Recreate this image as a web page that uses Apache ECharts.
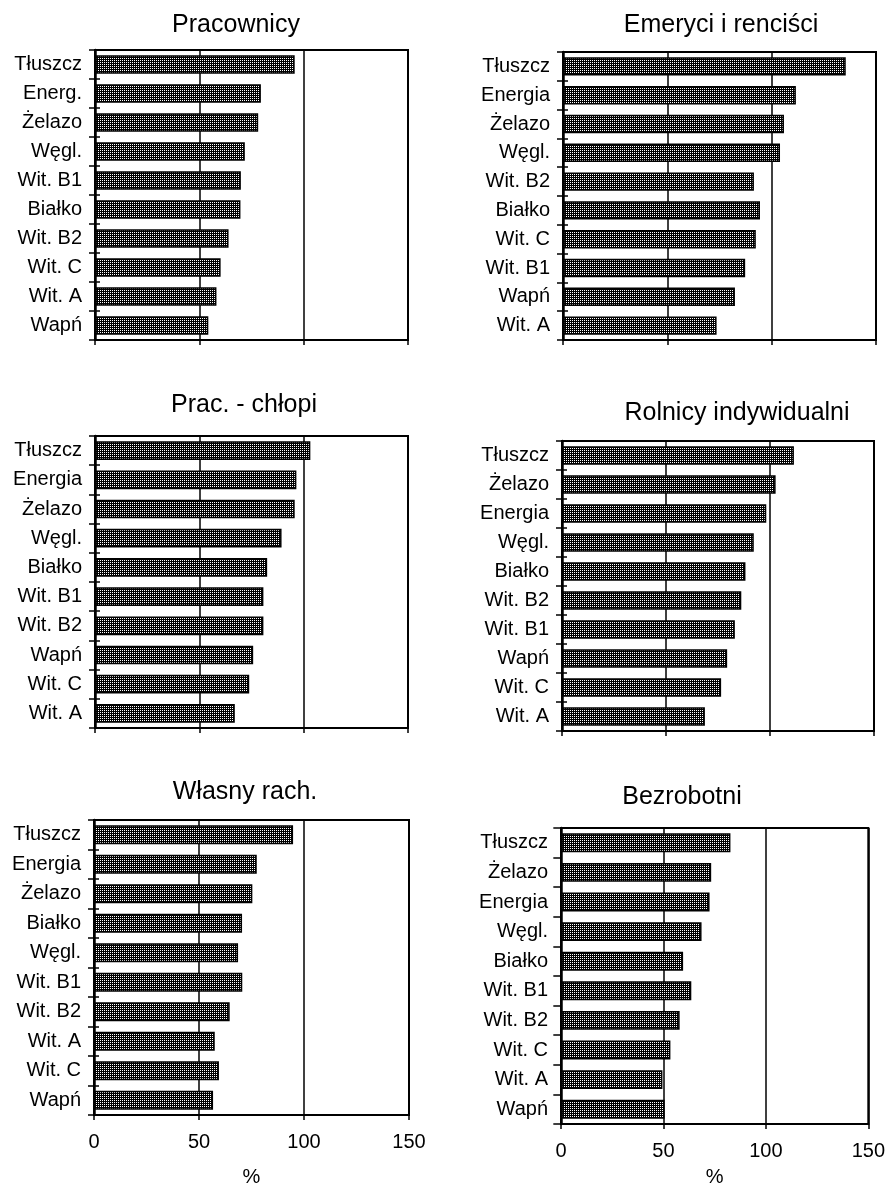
<!DOCTYPE html>
<html>
<head>
<meta charset="utf-8">
<script src="https://cdn.jsdelivr.net/npm/echarts@6/dist/echarts.min.js"></script>
<style>html,body{margin:0;padding:0;background:#fff}#c{width:888px;height:1188px}</style>
</head>
<body>
<div id="c"></div>
<script>
// ---- data ----
const titles = ['Pracownicy','Emeryci i renciści','Prac. - chłopi','Rolnicy indywidualni','Własny rach.','Bezrobotni'];
const cats1 = ['Tłuszcz','Energ.','Żelazo','Węgl.','Wit. B1','Białko','Wit. B2','Wit. C','Wit. A','Wapń'];
const vals1 = [95.7,79.5,78.2,71.8,69.9,69.7,64.0,60.2,58.2,54.3];
const cats2 = ['Tłuszcz','Energia','Żelazo','Węgl.','Wit. B2','Białko','Wit. C','Wit. B1','Wapń','Wit. A'];
const vals2 = [135.5,111.6,105.9,104.0,91.5,94.4,92.4,87.3,82.4,73.6];
const cats3 = ['Tłuszcz','Energia','Żelazo','Węgl.','Białko','Wit. B1','Wit. B2','Wapń','Wit. C','Wit. A'];
const vals3 = [103.2,96.5,95.7,89.4,82.5,80.7,80.7,75.8,73.9,67.0];
const cats4 = ['Tłuszcz','Żelazo','Energia','Węgl.','Białko','Wit. B2','Wit. B1','Wapń','Wit. C','Wit. A'];
const vals4 = [111.5,102.7,98.2,92.2,88.2,86.2,83.1,79.4,76.5,68.7];
const cats5 = ['Tłuszcz','Energia','Żelazo','Białko','Węgl.','Wit. B1','Wit. B2','Wit. A','Wit. C','Wapń'];
const vals5 = [94.8,77.5,75.4,70.5,68.6,70.6,64.6,57.5,59.5,56.7];
const cats6 = ['Tłuszcz','Żelazo','Energia','Węgl.','Białko','Wit. B1','Wit. B2','Wit. C','Wit. A','Wapń'];
const vals6 = [82.7,73.3,72.5,68.6,59.6,63.6,57.9,53.4,49.5,50.6];
const xTicks = [0,50,100,150];
const axisName = '%';

const catsAll = [cats1,cats2,cats3,cats4,cats5,cats6];
const valsAll = [vals1,vals2,vals3,vals4,vals5,vals6];

// ---- layout ----
const grids = [
  {left:95, top:50, width:313, height:290},
  {left:563, top:52, width:313, height:288},
  {left:95, top:436, width:313, height:292},
  {left:562, top:441, width:312, height:290},
  {left:94, top:820, width:315, height:298},
  {left:561, top:828, width:315, height:299}
];
const titlePos = [[236,25],[721,25],[244,405],[737,413],[245,792],[682,797]];
const FONT = '"Liberation Sans", Arial, sans-serif';

// stipple pattern
const pc = document.createElement('canvas');
pc.width = 2; pc.height = 2;
const g = pc.getContext('2d');
g.fillStyle = '#000'; g.fillRect(0,0,2,2);
g.fillStyle = '#fff'; g.fillRect(0,0,1,1);

const mainY = grids.map((r,i) => ({
  type:'category', gridIndex:i, inverse:true, data:catsAll[i], position:'left',
  axisLine:{show:true, lineStyle:{color:'#000', width:2.5}},
  axisTick:{show:true, length:6, lineStyle:{color:'#000', width:1.5}},
  axisLabel:{color:'#000', fontFamily:FONT, fontSize:20, margin:13},
  splitLine:{show:false}, z:5
}));
// second axis placed on the left edge only to draw the inner half of the crossing ticks
const innerY = grids.map((r,i) => ({
  type:'category', gridIndex:i, inverse:true, data:catsAll[i], position:'right', offset:-r.width,
  axisLine:{show:false},
  axisTick:{show:true, inside:false, length:5, lineStyle:{color:'#000', width:1.5}},
  axisLabel:{show:false}, splitLine:{show:false}, z:5
}));

const chart = echarts.init(document.getElementById('c'), null, {renderer:'canvas'});
const option = {
  animation:false,
  backgroundColor:'#fff',
  grid: grids.map(r => Object.assign({show:true, borderColor:'#000', borderWidth:2, backgroundColor:'transparent', containLabel:false}, r)),
  xAxis: grids.map((r,i) => ({
    type:'value', gridIndex:i, min:xTicks[0], max:xTicks[xTicks.length-1], interval:xTicks[1]-xTicks[0],
    axisLine:{show:true, lineStyle:{color:'#000', width:2}},
    axisTick:{show:true, length:5, lineStyle:{color:'#000', width:1.5}},
    axisLabel:{show:i>=4, color:'#000', fontFamily:FONT, fontSize:20, margin:17},
    splitLine:{show:true, lineStyle:{color:'#000', width:1.5}},
    name: i>=4 ? axisName : '', nameLocation:'middle', nameGap: i===4 ? 52 : 43,
    nameTextStyle:{color:'#000', fontFamily:FONT, fontSize:20}
  })),
  yAxis: mainY.concat(innerY),
  series: valsAll.map((v,i) => ({
    type:'bar', xAxisIndex:i, yAxisIndex:i, data:v, barWidth:'64%',
    itemStyle:{color:{image:pc, repeat:'repeat'}, borderColor:'#000', borderWidth:1.5},
    silent:true
  })),
  graphic: titles.map((t,i) => ({
    type:'text', x:titlePos[i][0], y:titlePos[i][1],
    style:{text:t, fill:'#000', font:'25px ' + FONT, textAlign:'center', textVerticalAlign:'middle'}
  }))
};
chart.setOption(option);
</script>
</body>
</html>
